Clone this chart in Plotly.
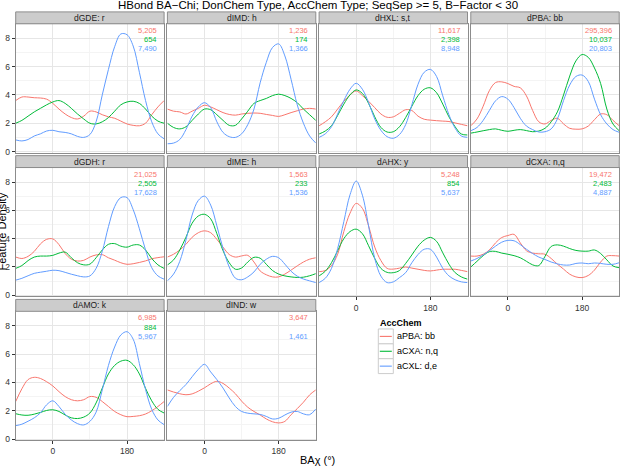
import plotly.graph_objects as go

W, H = 622, 468

# ---------------- data ----------------
X = [-90, -75, -60, -45, -30, -15, 0, 15, 30, 45, 60, 75, 90, 105, 120, 135, 150, 165, 180, 195, 210, 225, 240, 255, 270]

PANELS = ["dGDE: r", "dIMD: h", "dHXL: s,t", "dPBA: bb",
          "dGDH: r", "dIME: h", "dAHX: y", "dCXA: n,q",
          "dAMO: k", "dIND: w"]
SERIES = ["aPBA: bb", "aCXA: n,q", "aCXL: d,e"]
COLORS = ["#F8766D", "#00BA38", "#619CFF"]

GDE_PBA = [3.6, 3.85, 3.85, 3.8, 3.78, 3.7, 3.4, 3.0, 2.65, 2.4, 2.3, 2.5, 2.85, 2.8, 2.6, 2.45, 2.35, 2.15, 1.95, 1.85, 1.82, 2.0, 2.6, 3.15, 3.6]
GDE_CXA = [2.0, 2.2, 2.5, 2.8, 3.05, 3.3, 3.5, 3.6, 3.4, 3.05, 2.65, 2.3, 2.0, 1.95, 2.1, 2.4, 2.85, 3.3, 3.5, 3.55, 3.4, 3.0, 2.5, 2.15, 2.0]
GDE_CXL = [0.82, 0.75, 0.85, 1.1, 1.25, 1.45, 1.5, 1.4, 1.35, 1.25, 1.07, 1.0, 1.2, 2.1, 4.0, 5.8, 7.4, 8.3, 8.25, 7.45, 5.6, 3.6, 2.1, 1.25, 0.9]

IMD_PBA = [3.0, 2.85, 2.8, 2.65, 2.85, 3.05, 3.27, 3.15, 2.95, 2.75, 2.62, 2.57, 2.65, 2.7, 2.72, 2.7, 2.62, 2.55, 2.48, 2.6, 2.75, 2.88, 3.0, 3.05, 3.0]
IMD_CXA = [2.0, 1.7, 1.6, 1.75, 2.2, 2.65, 3.0, 2.95, 2.6, 2.2, 1.85, 1.85, 2.3, 2.85, 3.4, 3.6, 3.75, 3.95, 4.05, 3.95, 3.75, 3.45, 3.0, 2.6, 2.2]
IMD_CXL = [0.55, 0.6, 0.85, 1.55, 2.5, 3.15, 3.45, 3.1, 2.1, 1.35, 1.05, 1.0, 1.25, 1.9, 3.0, 4.85, 6.3, 7.35, 7.6, 6.75, 5.1, 3.3, 2.0, 1.1, 0.6]

HXL_PBA = [1.82, 2.1, 2.45, 3.0, 3.55, 4.0, 4.28, 3.95, 3.55, 3.1, 2.65, 2.42, 2.45, 2.7, 2.95, 2.9, 2.5, 2.28, 2.22, 2.18, 2.15, 2.12, 2.02, 1.92, 1.82]
HXL_CXA = [1.24, 1.45, 1.82, 2.55, 3.35, 4.0, 4.35, 4.1, 3.4, 2.45, 1.7, 1.38, 1.4, 1.75, 2.4, 3.2, 3.95, 4.4, 4.5, 4.15, 3.35, 2.45, 1.75, 1.24, 1.17]
HXL_CXL = [1.0, 1.25, 1.75, 2.65, 3.6, 4.4, 4.82, 4.4, 3.46, 2.3, 1.5, 1.05, 0.94, 1.2, 1.9, 3.3, 4.75, 5.6, 5.8, 5.3, 3.93, 2.6, 1.65, 1.1, 1.0]

PBA_PBA = [1.82, 2.3, 3.2, 4.3, 4.87, 4.92, 4.8, 4.6, 4.5, 3.93, 2.9, 2.1, 1.95, 2.2, 2.35, 1.95, 1.64, 1.58, 1.6, 1.8, 2.25, 2.65, 2.6, 2.2, 1.82]
PBA_CXA = [1.3, 1.38, 1.47, 1.55, 1.6, 1.5, 1.43, 1.5, 1.55, 1.48, 1.4, 1.45, 1.64, 2.1, 2.8, 4.0, 5.33, 6.4, 6.85, 6.65, 5.9, 4.8, 3.0, 1.94, 1.47]
PBA_CXL = [1.47, 1.7, 2.2, 2.9, 3.58, 3.88, 3.7, 3.1, 2.35, 1.8, 1.55, 1.38, 1.4, 1.6, 2.3, 3.6, 4.7, 5.3, 5.4, 4.95, 3.7, 2.6, 1.95, 1.55, 1.36]

GDH_PBA = [2.7, 2.6, 2.75, 3.1, 3.63, 3.95, 3.98, 3.58, 2.95, 2.55, 2.42, 2.47, 2.7, 2.85, 2.87, 2.65, 2.48, 2.3, 2.19, 2.23, 2.32, 2.43, 2.58, 2.66, 2.72]
GDH_CXA = [1.9, 2.1, 2.45, 2.7, 2.77, 2.77, 2.82, 2.98, 3.05, 2.65, 2.3, 2.15, 2.2, 2.65, 3.2, 3.6, 3.65, 3.47, 3.4, 3.55, 3.55, 3.2, 2.6, 2.15, 1.9]
GDH_CXL = [1.07, 1.2, 1.38, 1.55, 1.63, 1.7, 1.77, 1.74, 1.62, 1.49, 1.38, 1.3, 1.37, 1.9, 3.1, 4.85, 6.26, 6.9, 6.9, 6.05, 4.7, 3.2, 1.95, 1.37, 1.14]

IME_PBA = [2.7, 2.9, 3.2, 3.6, 4.1, 4.42, 4.55, 4.42, 3.95, 3.4, 2.88, 2.7, 2.78, 2.82, 2.35, 1.72, 1.45, 1.3, 1.3, 1.5, 1.78, 2.08, 2.35, 2.55, 2.65]
IME_CXA = [2.14, 2.5, 3.2, 4.1, 5.09, 5.6, 5.72, 5.4, 4.35, 3.15, 2.3, 1.84, 1.93, 2.35, 2.68, 2.62, 2.19, 1.75, 1.5, 1.37, 1.3, 1.26, 1.28, 1.38, 1.53]
IME_CXL = [1.02, 1.5, 2.4, 3.9, 5.67, 6.7, 7.0, 6.37, 4.9, 3.3, 2.0, 1.21, 1.1, 1.3, 1.65, 2.19, 2.55, 2.75, 2.65, 2.2, 1.7, 1.35, 1.15, 1.02, 0.9]

AHX_PBA = [1.67, 1.75, 2.1, 2.9, 4.5, 5.8, 6.49, 6.14, 4.9, 3.4, 2.45, 1.9, 1.85, 1.92, 2.0, 1.92, 1.84, 1.76, 1.72, 1.78, 1.84, 1.84, 1.84, 1.76, 1.67]
AHX_CXA = [1.37, 1.7, 2.3, 3.15, 4.0, 4.5, 4.67, 4.35, 3.5, 2.6, 1.9, 1.62, 1.6, 1.75, 2.25, 2.85, 3.47, 3.9, 4.09, 3.81, 3.0, 2.2, 1.6, 1.3, 1.14]
AHX_CXL = [0.9, 1.2, 1.9, 3.3, 5.2, 7.1, 8.07, 7.07, 4.9, 2.6, 1.35, 0.9, 0.95, 1.25, 1.6, 2.3, 2.88, 3.25, 3.25, 2.7, 1.9, 1.37, 1.1, 0.95, 0.9]

CXA_PBA = [2.77, 2.77, 2.9, 3.2, 3.7, 4.08, 4.22, 4.3, 3.7, 3.15, 2.98, 2.93, 2.9, 2.6, 2.2, 1.85, 1.49, 1.3, 1.25, 1.4, 1.78, 2.35, 2.77, 2.8, 2.77]
CXA_CXA = [2.0, 2.4, 2.8, 3.08, 3.1, 2.98, 2.9, 2.8, 2.65, 2.4, 2.15, 2.1, 2.75, 3.45, 3.56, 3.47, 3.3, 3.17, 3.12, 3.12, 3.2, 2.95, 2.5, 2.07, 1.95]
CXA_CXL = [2.42, 2.6, 2.85, 3.15, 3.47, 3.75, 3.88, 3.85, 3.58, 3.25, 2.95, 2.7, 2.53, 2.35, 2.22, 2.14, 2.14, 2.25, 2.28, 2.23, 2.28, 2.25, 2.19, 2.19, 2.3]

AMO_PBA = [2.65, 3.55, 4.2, 4.36, 4.28, 4.05, 3.75, 3.35, 3.0, 2.78, 2.7, 2.78, 3.0, 2.95, 2.65, 2.3, 1.95, 1.72, 1.58, 1.6, 1.65, 1.77, 2.0, 2.3, 2.65]
AMO_CXA = [1.79, 1.7, 1.68, 1.76, 1.88, 2.02, 2.07, 1.95, 1.7, 1.5, 1.45, 1.55, 1.84, 2.55, 3.6, 4.6, 5.2, 5.5, 5.56, 5.25, 4.6, 3.58, 2.7, 2.1, 1.84]
AMO_CXL = [0.95, 1.05, 1.26, 1.5, 1.85, 2.42, 2.7, 2.3, 1.75, 1.35, 1.09, 1.0, 1.25, 1.9, 3.47, 5.2, 6.5, 7.35, 7.58, 7.05, 5.33, 3.5, 2.1, 1.35, 1.02]

IND_PBA = [3.47, 3.32, 3.2, 3.13, 3.19, 3.38, 3.62, 3.9, 4.08, 3.93, 3.6, 3.2, 2.68, 2.25, 1.95, 1.7, 1.42, 1.22, 1.14, 1.25, 1.72, 2.15, 2.6, 3.12, 3.47]
IND_CXA = None
IND_CXL = [2.3, 2.95, 3.42, 3.85, 4.4, 4.92, 5.28, 4.74, 4.2, 3.6, 2.9, 2.3, 1.95, 1.83, 1.78, 1.74, 1.6, 1.42, 1.47, 1.7, 1.9, 1.95, 1.78, 1.72, 2.12]

COUNTS_PBA = ["5,205", "1,236", "11,617", "295,396", "21,025", "1,563", "5,248", "19,472", "6,985", "3,647"]
COUNTS_CXA = ["654", "174", "2,398", "10,037", "2,505", "233", "854", "2,483", "884", None]
COUNTS_CXL = ["7,490", "1,366", "8,948", "20,803", "17,628", "1,536", "5,637", "4,887", "5,967", "1,461"]

DENS = [
    [GDE_PBA, GDE_CXA, GDE_CXL], [IMD_PBA, IMD_CXA, IMD_CXL],
    [HXL_PBA, HXL_CXA, HXL_CXL], [PBA_PBA, PBA_CXA, PBA_CXL],
    [GDH_PBA, GDH_CXA, GDH_CXL], [IME_PBA, IME_CXA, IME_CXL],
    [AHX_PBA, AHX_CXA, AHX_CXL], [CXA_PBA, CXA_CXA, CXA_CXL],
    [AMO_PBA, AMO_CXA, AMO_CXL], [IND_PBA, IND_CXA, IND_CXL],
]
COUNTS = [COUNTS_PBA, COUNTS_CXA, COUNTS_CXL]
COUNT_Y = [8.55, 7.9, 7.25]

X_TICKS = [0, 180]
Y_TICKS = [0, 2, 4, 6, 8]

TITLE = "HBond BA\u2212Chi; DonChem Type, AccChem Type; SeqSep >= 5, B\u2212Factor < 30"
FONT = "Liberation Sans, Arial, Helvetica, sans-serif"

# ---------------- layout geometry (pixels) ----------------
COL_LEFT0, COL_W, COL_STEP = 15.7, 148.4, 151.7
ROW_TOP0, ROW_H, ROW_STEP = 24, 130, 145
STRIP_H = 12


def fx(px):
    return px / W


def fy(py):
    return 1 - py / H


fig = go.Figure()
layout = dict(
    width=W, height=H, margin=dict(l=0, r=0, t=0, b=0),
    paper_bgcolor="white", plot_bgcolor="white",
    showlegend=False, font=dict(family=FONT, color="#000000"),
)
shapes = []
annotations = []

for k, name in enumerate(PANELS):
    r, c = divmod(k, 4)
    left = COL_LEFT0 + COL_STEP * c
    right = left + COL_W
    top = ROW_TOP0 + ROW_STEP * r
    bottom = top + ROW_H
    n = k + 1
    xa = "xaxis" if n == 1 else f"xaxis{n}"
    ya = "yaxis" if n == 1 else f"yaxis{n}"
    xr = "x" if n == 1 else f"x{n}"
    yr = "y" if n == 1 else f"y{n}"

    show_x = (r == 2) or (r == 1 and c >= 2)
    show_y = (c == 0)

    layout[xa] = dict(
        domain=[fx(left), fx(right)], anchor=yr, range=[-90, 270],
        tickvals=X_TICKS, showticklabels=show_x,
        ticks="outside" if show_x else "", ticklen=3, tickcolor="#333333",
        tickfont=dict(size=8.5, color="#333333"),
        showgrid=True, gridcolor="#E6E6E6", gridwidth=1,
        minor=dict(tickvals=[-90, 90, 270], showgrid=True, gridcolor="#F4F4F4", gridwidth=0.6, ticks=""),
        zeroline=False, showline=True, mirror=True, linecolor="#8C8C8C", linewidth=1,
        fixedrange=True,
    )
    layout[ya] = dict(
        domain=[fy(bottom), fy(top)], anchor=xr, range=[-0.08, 9.02],
        tickvals=Y_TICKS, showticklabels=show_y,
        ticks="outside" if show_y else "", ticklen=3, tickcolor="#333333",
        tickfont=dict(size=8.5, color="#333333"),
        showgrid=True, gridcolor="#E6E6E6", gridwidth=1,
        minor=dict(tickvals=[1, 3, 5, 7], showgrid=True, gridcolor="#F4F4F4", gridwidth=0.6, ticks=""),
        zeroline=False, showline=True, mirror=True, linecolor="#8C8C8C", linewidth=1,
        fixedrange=True,
    )

    for s, vals in enumerate(DENS[k]):
        if vals is None:
            continue
        fig.add_trace(go.Scatter(
            x=X, y=vals, mode="lines", xaxis=xr, yaxis=yr,
            line=dict(color=COLORS[s], width=1.0, shape="spline", smoothing=1.0),
            name=SERIES[s], hoverinfo="skip",
        ))
        lab = COUNTS[s][k]
        if lab:
            annotations.append(dict(
                x=257, y=COUNT_Y[s], xref=xr, yref=yr, text=lab, showarrow=False,
                xanchor="right", yanchor="middle",
                font=dict(size=7.5, color=COLORS[s], family=FONT),
            ))

    # strip
    shapes.append(dict(
        type="rect", xref="paper", yref="paper",
        x0=fx(left), x1=fx(right), y0=fy(top), y1=fy(top - STRIP_H),
        fillcolor="#CCCCCC", line=dict(color="#8C8C8C", width=1), layer="above",
    ))
    annotations.append(dict(
        x=fx((left + right) / 2), y=fy(top - STRIP_H / 2), xref="paper", yref="paper",
        text=name, showarrow=False, xanchor="center", yanchor="middle",
        font=dict(size=8.5, color="#1A1A1A", family=FONT),
    ))

# title
annotations.append(dict(
    x=fx(317.7), y=fy(5.5), xref="paper", yref="paper", text=TITLE, showarrow=False,
    xanchor="center", yanchor="middle", font=dict(size=11.5, color="#000000", family=FONT),
))
# axis titles
annotations.append(dict(
    x=fx(317.7), y=fy(463.5), xref="paper", yref="paper", text="BA\u03c7 (\u00b0)", showarrow=False,
    xanchor="center", yanchor="middle", font=dict(size=11, color="#000000", family=FONT),
))
annotations.append(dict(
    x=fx(1.5), y=fy(234), xref="paper", yref="paper", text="Feature Density", showarrow=False,
    xanchor="center", yanchor="middle", textangle=-90,
    font=dict(size=11, color="#000000", family=FONT),
))

# legend (manual, ggplot style)
LEG_X, LEG_Y = 378.3, 331.8
KEY = 15
annotations.append(dict(
    x=fx(LEG_X), y=fy(325.5), xref="paper", yref="paper", text="<b>AccChem</b>", showarrow=False,
    xanchor="left", yanchor="middle", font=dict(size=9, color="#000000", family=FONT),
))
for s, lab in enumerate(SERIES):
    y0 = LEG_Y + KEY * s
    shapes.append(dict(
        type="rect", xref="paper", yref="paper",
        x0=fx(LEG_X), x1=fx(LEG_X + KEY), y0=fy(y0), y1=fy(y0 + KEY),
        fillcolor="white", line=dict(color="#CCCCCC", width=1),
    ))
    shapes.append(dict(
        type="line", xref="paper", yref="paper",
        x0=fx(LEG_X + 1.5), x1=fx(LEG_X + KEY - 1.5), y0=fy(y0 + KEY / 2), y1=fy(y0 + KEY / 2),
        line=dict(color=COLORS[s], width=1.1),
    ))
    annotations.append(dict(
        x=fx(LEG_X + KEY + 2), y=fy(y0 + KEY / 2), xref="paper", yref="paper", text=lab,
        showarrow=False, xanchor="left", yanchor="middle",
        font=dict(size=9, color="#000000", family=FONT),
    ))

layout["shapes"] = shapes
layout["annotations"] = annotations
fig.update_layout(**layout)
fig.write_html("out.html")
